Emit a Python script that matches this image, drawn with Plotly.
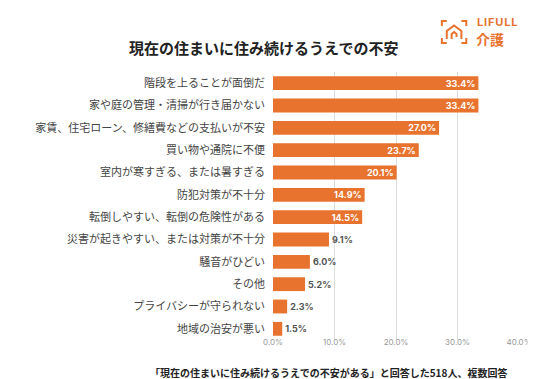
import plotly.graph_objects as go

categories = ["階段を上ることが面倒だ", "家や庭の管理・清掃が行き届かない", "家賃、住宅ローン、修繕費などの支払いが不安",
              "買い物や通院に不便", "室内が寒すぎる、または暑すぎる", "防犯対策が不十分",
              "転倒しやすい、転倒の危険性がある", "災害が起きやすい、または対策が不十分", "騒音がひどい",
              "その他", "プライバシーが守られない", "地域の治安が悪い"]
values = [33.4, 33.4, 27.0, 23.7, 20.1, 14.9, 14.5, 9.1, 6.0, 5.2, 2.3, 1.5]
tick_vals = [0, 10, 20, 30, 40]
tick_text = ["0.0%", "10.0%", "20.0%", "30.0%", "40.0%"]

ORANGE = "#E8732F"
FONT = "Noto Sans CJK JP"

W, H = 536, 379
pl, pr, pt, pb = 265, 19, 64, 47
pw, ph = W - pl - pr, H - pt - pb


def px(x):
    return (x - pl) / pw


def py(y):
    return (H - y - pb) / ph


inside = [v >= 10 for v in values]
fig = go.Figure(go.Bar(
    y=categories, x=values, orientation="h",
    marker=dict(color=ORANGE, line=dict(width=0)),
    width=0.62,
    text=[f"{v:.1f}%" for v in values],
    textposition=["inside" if i else "outside" for i in inside],
    insidetextanchor="end",
    textfont=dict(family="Inter", size=9, weight="bold",
                  color=["white" if i else "#555555" for i in inside]),
    cliponaxis=False,
))

ann = [
    dict(text="<b>現在の住まいに住み続けるうえでの不安</b>", x=px(256), y=py(40),
         font=dict(size=15, color="#222222", family=FONT)),
    dict(text="<b>「現在の住まいに住み続けるうえでの不安がある」と回答した518人、複数回答</b>",
         x=px(507), y=py(364), xanchor="right",
         font=dict(size=10, color="#222222", family=FONT)),
    dict(text="<b>L\u200aI\u200aF\u200aU\u200aL\u200aL</b>", x=px(472), y=py(14), xanchor="left",
         font=dict(size=11, color=ORANGE, family="Inter")),
    dict(text="<b>介護</b>", x=px(471), y=py(31), xanchor="left",
         font=dict(size=14, color=ORANGE, family=FONT)),
]
for a in ann:
    a.update(xref="paper", yref="paper", showarrow=False, yanchor="middle")
    a.setdefault("xanchor", "center")


def path(points):
    return "M " + " L ".join(f"{px(x)},{py(y)}" for x, y in points)


logo_line = dict(color=ORANGE, width=2)
logo_paths = [
    [(443, 13), (438, 13), (438, 18)],
    [(458, 13), (463, 13), (463, 18)],
    [(438, 30), (438, 35), (443, 35)],
    [(463, 30), (463, 35), (458, 35)],
    [(443, 31), (443, 23), (450.5, 17.5), (458, 23), (458, 31)],
    [(448, 31), (448, 26), (450.5, 24), (453, 26), (453, 29)],
]
shapes = [dict(type="path", xref="paper", yref="paper", path=path(p), line=logo_line)
          for p in logo_paths]

fig.update_layout(
    width=W, height=H,
    margin=dict(l=pl, r=pr, t=pt, b=pb),
    plot_bgcolor="white", paper_bgcolor="white",
    showlegend=False,
    uniformtext=dict(minsize=8, mode="show"),
    font=dict(family=FONT),
    xaxis=dict(range=[0, 40], tickvals=tick_vals, ticktext=tick_text,
               showgrid=True, gridcolor="#dddddd", gridwidth=1,
               zeroline=False, showline=False, ticklabelstandoff=-4,
               tickfont=dict(family="Inter", size=8, color="#999999"), ticks=""),
    yaxis=dict(autorange="reversed", showgrid=False, ticks="", ticklen=0,
               ticklabelstandoff=7,
               tickfont=dict(family=FONT, size=11, color="#444444")),
    annotations=ann,
    shapes=shapes,
)

fig.write_html("out.html")
